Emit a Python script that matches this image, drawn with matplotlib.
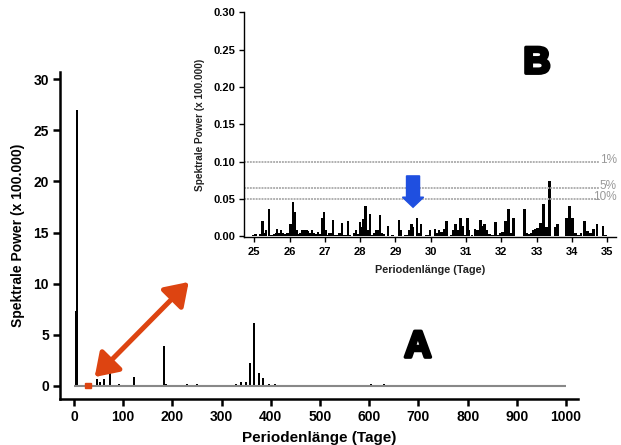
import matplotlib
matplotlib.use("Agg")
from matplotlib import pyplot as plt
from matplotlib.patches import Rectangle, FancyArrowPatch
import matplotlib.patheffects as pe

plt.rcParams['font.family'] = ['Liberation Sans', 'DejaVu Sans']

# main spectrum (period in days, power x 100.000)
main_period = [3, 7, 47, 53, 60, 73, 92, 121, 182, 186, 203, 215, 230, 245, 250,
               262, 275, 290, 302, 312, 322, 330, 339, 349, 357, 366, 375, 385,
               397, 408, 420, 434, 448, 478, 496, 604, 630, 696, 731, 772, 870]
main_power = [7.3, 27.0, 0.65, 0.4, 0.7, 2.15, 0.17, 0.9, 3.9, 0.2, 0.1, 0.08, 0.15, 0.1, 0.15,
              0.1, 0.08, 0.1, 0.08, 0.1, 0.1, 0.15, 0.4, 0.4, 2.2, 6.2, 1.3, 0.8,
              0.2, 0.2, 0.1, 0.1, 0.1, 0.05, 0.05, 0.2, 0.2, 0.1, 0.1, 0.1, 0.1]

# zoomed spectrum 25-35 days
zoom_period = [24.97, 25.04, 25.16, 25.24, 25.27, 25.33, 25.42, 25.49, 25.56, 25.61,
               25.65, 25.71, 25.76, 25.82, 25.87, 25.94, 26.03, 26.10, 26.15, 26.20,
               26.26, 26.31, 26.37, 26.44, 26.48, 26.53, 26.58, 26.63, 26.69, 26.75,
               26.80, 26.86, 26.93, 26.97, 27.02, 27.08, 27.12, 27.17, 27.23, 27.29,
               27.34, 27.41, 27.48, 27.54, 27.60, 27.65, 27.71, 27.78, 27.83, 27.89,
               27.95, 27.99, 28.04, 28.10, 28.15, 28.21, 28.28, 28.33, 28.39, 28.45,
               28.50, 28.56, 28.62, 28.67, 28.79, 28.85, 28.92, 28.99, 29.10, 29.15,
               29.22, 29.29, 29.34, 29.40, 29.46, 29.50, 29.56, 29.61, 29.67, 29.72,
               29.79, 29.86, 29.92, 29.98, 30.04, 30.12, 30.17, 30.24, 30.30, 30.37,
               30.45, 30.51, 30.57, 30.64, 30.70, 30.76, 30.85, 30.90, 30.97, 31.04,
               31.09, 31.17, 31.26, 31.32, 31.41, 31.46, 31.53, 31.60, 31.66, 31.75,
               31.84, 31.90, 31.98, 32.03, 32.12, 32.20, 32.26, 32.35, 32.41, 32.49,
               32.56, 32.66, 32.71, 32.79, 32.86, 32.90, 32.97, 33.03, 33.11, 33.20,
               33.28, 33.37, 33.43, 33.52, 33.59, 33.68, 33.75, 33.85, 33.93, 34.02,
               34.10, 34.19, 34.26, 34.36, 34.44, 34.53, 34.61, 34.71, 34.80, 34.89,
               34.96]
zoom_power = [0.002, 0.003, 0.003, 0.021, 0.004, 0.009, 0.036, 0.002, 0.003, 0.005,
              0.010, 0.005, 0.009, 0.005, 0.003, 0.004, 0.016, 0.046, 0.032, 0.009,
              0.003, 0.005, 0.009, 0.009, 0.009, 0.007, 0.005, 0.009, 0.004, 0.003,
              0.006, 0.003, 0.024, 0.033, 0.009, 0.002, 0.004, 0.004, 0.022, 0.002,
              0.002, 0.005, 0.018, 0.002, 0.002, 0.021, 0.002, 0.001, 0.005, 0.008,
              0.003, 0.019, 0.012, 0.023, 0.041, 0.009, 0.030, 0.002, 0.004, 0.009,
              0.009, 0.028, 0.005, 0.003, 0.014, 0.001, 0.002, 0.001, 0.022, 0.008,
              0.001, 0.002, 0.002, 0.009, 0.017, 0.013, 0.001, 0.024, 0.004, 0.017,
              0.001, 0.002, 0.002, 0.009, 0.001, 0.010, 0.005, 0.008, 0.006, 0.010,
              0.020, 0.001, 0.002, 0.009, 0.017, 0.008, 0.024, 0.014, 0.002, 0.024,
              0.008, 0.002, 0.010, 0.008, 0.022, 0.014, 0.017, 0.008, 0.003, 0.002,
              0.019, 0.002, 0.004, 0.006, 0.020, 0.036, 0.004, 0.025, 0.001, 0.001,
              0.001, 0.036, 0.004, 0.003, 0.004, 0.008, 0.010, 0.011, 0.018, 0.044,
              0.012, 0.074, 0.001, 0.013, 0.017, 0.001, 0.001, 0.024, 0.041, 0.024,
              0.004, 0.002, 0.004, 0.020, 0.007, 0.004, 0.010, 0.016, 0.001, 0.014,
              0.002]

levels = [0.099, 0.065, 0.050]
level_labels = ['1%', '5%', '10%']

fig = plt.figure(figsize=(6.21, 4.45), dpi=100)

# ---- A: whole spectrum
ax = fig.add_axes([0.0966, 0.1034, 0.834, 0.735])
ax.bar(main_period, main_power, width=4, color='black')
ax.bar(zoom_period, zoom_power, width=0.5, color='black')
ax.hlines(0, 0, 1000, color='#888888', lw=1.5, zorder=1)
ax.add_patch(Rectangle((23, -0.15), 12, 0.45, color='#dd4411', zorder=3))
arr = FancyArrowPatch((38, 0.68), (237, 10.36), arrowstyle='<|-|>,head_length=0.75,head_width=0.5',
                      mutation_scale=18, lw=3.6, color='#dd4411', zorder=4)
ax.add_patch(arr)
ax.set_xlim(-28.5, 1024)
ax.set_ylim(-1.27, 30.7)
ax.set_xticks(range(0, 1001, 100))
ax.set_yticks(range(0, 31, 5))
for s in ['top', 'right']:
    ax.spines[s].set_visible(False)
for s in ['left', 'bottom']:
    ax.spines[s].set_linewidth(1.8)
ax.tick_params(direction='out', length=5, width=1.8, labelsize=10, pad=3)
for lab in ax.get_xticklabels() + ax.get_yticklabels():
    lab.set_fontweight('bold')
ax.set_xlabel('Periodenlänge (Tage)', fontsize=11, fontweight='bold', labelpad=5)
ax.set_ylabel('Spektrale Power (x 100.000)', fontsize=10, fontweight='bold', labelpad=6)

# ---- B: zoom 25-35 days
ins = fig.add_axes([0.3929, 0.4663, 0.599, 0.5067])
ins.patch.set_alpha(0)
ins.bar(zoom_period, zoom_power, width=0.07, color='black')
for lv, lt in zip(levels, level_labels):
    ins.hlines(lv, 24.71, 34.77, color='#b0b0b0', lw=1.4, linestyle=(0, (1, 0.5)))
    ins.text(35.27, lv + 0.003, lt, ha='right', va='center', fontsize=8.5, color='#999999')
ins.arrow(29.5, 0.081, 0, -0.042, width=0.37, head_width=0.6, head_length=0.0135,
          length_includes_head=True, color='#1f4fe0', zorder=5)
ins.set_xlim(24.71, 35.25)
ins.set_ylim(-0.0015, 0.3005)
ins.set_xticks(range(25, 36))
ins.set_yticks([0, 0.05, 0.10, 0.15, 0.20, 0.25, 0.30])
ins.set_yticklabels(['0.00', '0.05', '0.10', '0.15', '0.20', '0.25', '0.30'])
for s in ['top', 'right']:
    ins.spines[s].set_visible(False)
for s in ['left', 'bottom']:
    ins.spines[s].set_linewidth(1.0)
ins.tick_params(direction='out', length=3.5, width=1.0, labelsize=8, pad=3)
for lab in ins.get_xticklabels() + ins.get_yticklabels():
    lab.set_fontweight('bold')
ins.set_xlabel('Periodenlänge (Tage)', fontsize=7.8, fontweight='bold', color='#222222', labelpad=6)
ins.set_ylabel('Spektrale Power (x 100.000)', fontsize=7.2, fontweight='bold', color='#222222', labelpad=6)

heavy = [pe.withStroke(linewidth=2.5, foreground='black')]
fig.text(0.673, 0.22, 'A', fontsize=27, fontweight='bold', ha='center', va='center', path_effects=heavy)
fig.text(0.8647, 0.858, 'B', fontsize=27, fontweight='bold', ha='center', va='center', path_effects=heavy)

fig.savefig('out.png', dpi=100)
